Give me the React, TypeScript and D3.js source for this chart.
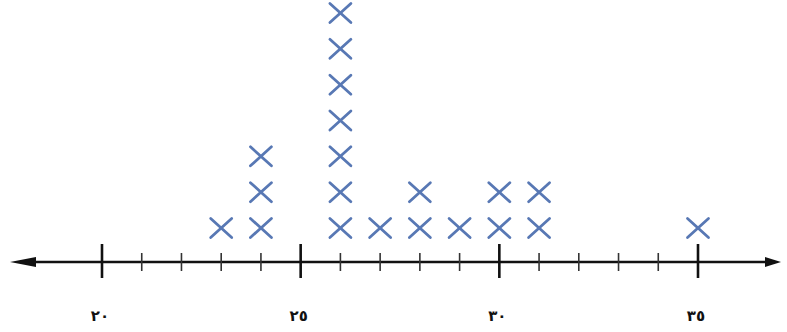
import React from "react";
import * as d3 from "d3";

// Observations (each one is an X above the number line)
const observations: number[] = [
  23,
  24, 24, 24,
  26, 26, 26, 26, 26, 26, 26,
  27,
  28, 28,
  29,
  30, 30,
  31, 31,
  35,
];
const tickValues: number[] = d3.range(20, 36);
const majorTicks: number[] = [20, 25, 30, 35];
const majorLabels: string[] = ["٢٠", "٢٥", "٣٠", "٣٥"];

const W = 787;
const H = 332;
const AXIS_Y = 262;

export default function App() {
  const x = d3.scaleLinear().domain([20, 35]).range([102, 698]);
  const y = d3.scaleLinear().domain([1, 7]).range([228, 13]);

  const counts = new Map<number, number>();
  const marks = observations.map((v) => {
    const k = (counts.get(v) || 0) + 1;
    counts.set(v, k);
    return { v, k };
  });

  const half = 10.5;
  const blue = "#5878b4";

  return (
    <svg
      width={W}
      height={H}
      style={{ position: "absolute", left: 0, top: 0, background: "#fff" }}
    >
      {/* axis line */}
      <line x1={25} x2={770} y1={AXIS_Y} y2={AXIS_Y} stroke="#111" strokeWidth={2.6} />
      <path d={`M10,${AXIS_Y} L36,${AXIS_Y - 5} L36,${AXIS_Y + 5} Z`} fill="#111" />
      <path d={`M781,${AXIS_Y} L765,${AXIS_Y - 5} L765,${AXIS_Y + 5} Z`} fill="#111" />
      {/* ticks */}
      {tickValues.map((t) => {
        const major = majorTicks.includes(t);
        return (
          <line
            key={t}
            x1={x(t)}
            x2={x(t)}
            y1={major ? 244 : 253}
            y2={major ? 278 : 271}
            stroke={major ? "#111" : "#333"}
            strokeWidth={major ? 2.6 : 1.6}
          />
        );
      })}
      {/* labels */}
      {majorTicks.map((t, i) => (
        <text
          key={t}
          x={x(t) - 2}
          y={321}
          textAnchor="middle"
          fontFamily="DejaVu Sans"
          fontWeight="bold"
          fontSize={15}
          fill="#111"
        >
          {majorLabels[i]}
        </text>
      ))}
      {/* X marks */}
      {marks.map((m, i) => {
        const cx = x(m.v);
        const cy = y(m.k);
        return (
          <g key={i} stroke={blue} strokeWidth={2.8} strokeLinecap="round">
            <line x1={cx - half} y1={cy - 9.5} x2={cx + half} y2={cy + 9.5} />
            <line x1={cx - half} y1={cy + 9.5} x2={cx + half} y2={cy - 9.5} />
          </g>
        );
      })}
    </svg>
  );
}
